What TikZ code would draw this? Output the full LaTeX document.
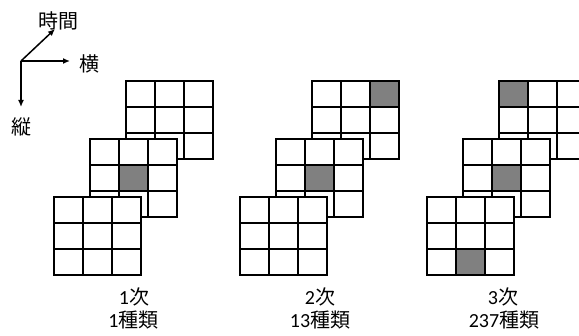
\documentclass[tikz,border=0pt]{standalone}
\usepackage{fontspec}
\setmainfont{Carlito}
\newfontfamily\jp{Noto Sans CJK JP}
\usetikzlibrary{arrows.meta}
\definecolor{Cgray}{RGB}{128,128,128}

\tikzset{
  axisarrow/.style={line width=1.5pt,-{Latex[length=7pt,width=6pt]}},
  lbl/.style={inner sep=0pt,font=\fontsize{20}{21}\selectfont},
  gridline/.style={line width=2pt,line cap=rect},
  cellfill/.style={fill=Cgray},
}

% one 3x3 slab, top left corner at (#1,#2)
\newcommand{\slab}[2]{%
  \fill[white] (#1,#2) rectangle ++(87,78);
  \draw[gridline] (#1,#2) rectangle ++(87,78);
  \foreach \i in {1,2} {
    \draw[gridline] ({#1+29*\i},#2) -- ++(0,78);
    \draw[gridline] (#1,{#2+26*\i}) -- ++(87,0);
  }
}
% gray cell in column #3, row #4 of the slab at (#1,#2)
\newcommand{\graycell}[4]{%
  \fill[cellfill] ({#1+29*#3+1},{#2+26*#4+1}) rectangle ++(27,24);
}

\begin{document}
\begin{tikzpicture}[x=1pt,y=-1pt,line join=miter]
\path[use as bounding box] (0,0) rectangle (579,336);
\clip (0,0) rectangle (579,336);

% axes
\coordinate (o) at (21,61);
\coordinate (t) at (55,29);
\coordinate (h) at (70,61);
\coordinate (v) at (21,107);
\draw[axisarrow] (o) -- (t);
\draw[axisarrow] (o) -- (h);
\draw[axisarrow] (o) -- (v);
\node[lbl] (time) at (58,21) {\jp 時間};
\node[lbl] (yoko) at (89,64) {\jp 横};
\node[lbl] (tate) at (22,127) {\jp 縦};

% 1st order
\slab{126}{81}
\slab{90}{139}
\graycell{90}{139}{1}{1}
\slab{54}{197}

% 2nd order
\slab{312}{81}
\graycell{312}{81}{2}{0}
\slab{276}{139}
\graycell{276}{139}{1}{1}
\slab{240}{197}

% 3rd order
\slab{499}{81}
\graycell{499}{81}{0}{0}
\slab{463}{139}
\graycell{463}{139}{1}{1}
\slab{427}{197}
\graycell{427}{197}{1}{2}

% captions
\node[lbl] (ord1) at (134,297) {1{\jp 次}};
\node[lbl] (num1) at (133.5,320) {1{\jp 種類}};
\node[lbl] (ord2) at (320,297) {2{\jp 次}};
\node[lbl] (num2) at (320,320) {13{\jp 種類}};
\node[lbl] (ord3) at (503,297) {3{\jp 次}};
\node[lbl] (num3) at (504,320) {237{\jp 種類}};
\end{tikzpicture}
\end{document}
